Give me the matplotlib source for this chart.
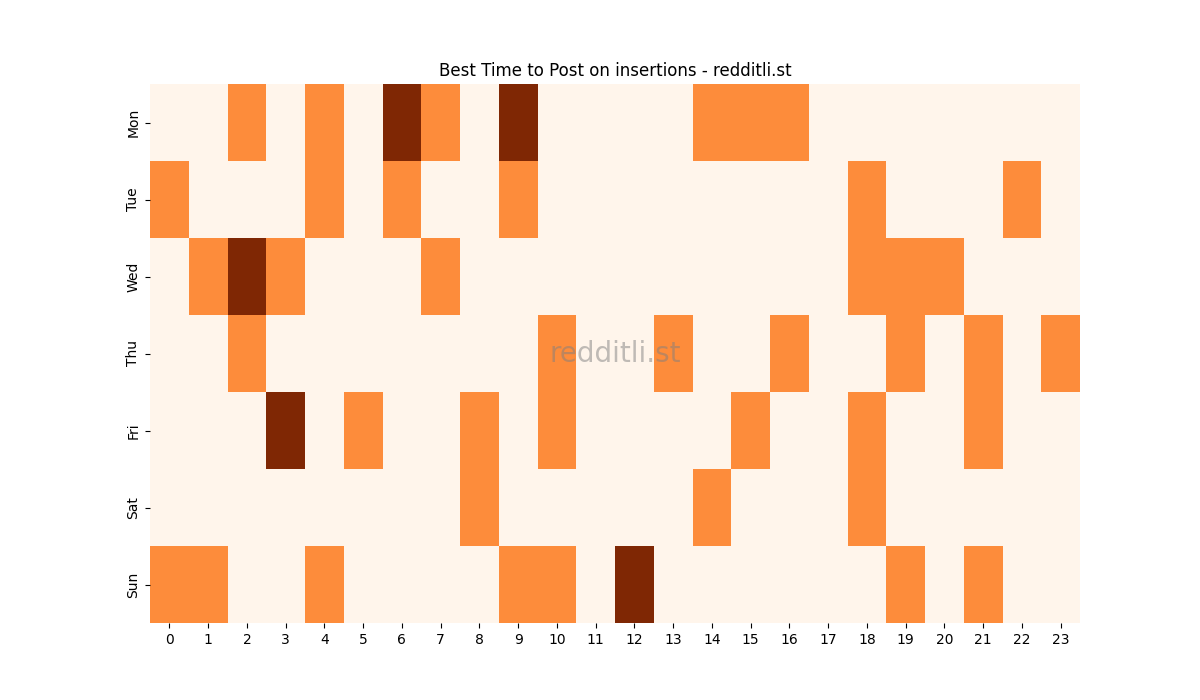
import numpy as np
import seaborn as sns
from matplotlib import pyplot as plt

days = ['Mon', 'Tue', 'Wed', 'Thu', 'Fri', 'Sat', 'Sun']
hours = list(range(24))

# post counts per (day, hour): 0 = none, 1 = some, 2 = most
mon = [0, 0, 1, 0, 1, 0, 2, 1, 0, 2, 0, 0, 0, 0, 1, 1, 1, 0, 0, 0, 0, 0, 0, 0]
tue = [1, 0, 0, 0, 1, 0, 1, 0, 0, 1, 0, 0, 0, 0, 0, 0, 0, 0, 1, 0, 0, 0, 1, 0]
wed = [0, 1, 2, 1, 0, 0, 0, 1, 0, 0, 0, 0, 0, 0, 0, 0, 0, 0, 1, 1, 1, 0, 0, 0]
thu = [0, 0, 1, 0, 0, 0, 0, 0, 0, 0, 1, 0, 0, 1, 0, 0, 1, 0, 0, 1, 0, 1, 0, 1]
fri = [0, 0, 0, 2, 0, 1, 0, 0, 1, 0, 1, 0, 0, 0, 0, 1, 0, 0, 1, 0, 0, 1, 0, 0]
sat = [0, 0, 0, 0, 0, 0, 0, 0, 1, 0, 0, 0, 0, 0, 1, 0, 0, 0, 1, 0, 0, 0, 0, 0]
sun = [1, 1, 0, 0, 1, 0, 0, 0, 0, 1, 1, 0, 2, 0, 0, 0, 0, 0, 0, 1, 0, 1, 0, 0]

grid = np.array([mon, tue, wed, thu, fri, sat, sun])

fig, ax = plt.subplots(figsize=(12, 7), dpi=100)
sns.heatmap(grid, cmap='Oranges', cbar=False, xticklabels=hours, yticklabels=days, ax=ax)
ax.set_title('Best Time to Post on insertions - redditli.st')
ax.text(0.5, 0.5, 'redditli.st', transform=ax.transAxes, ha='center', va='center',
        fontsize=20, color='gray', alpha=0.5)

plt.savefig('out.png')
